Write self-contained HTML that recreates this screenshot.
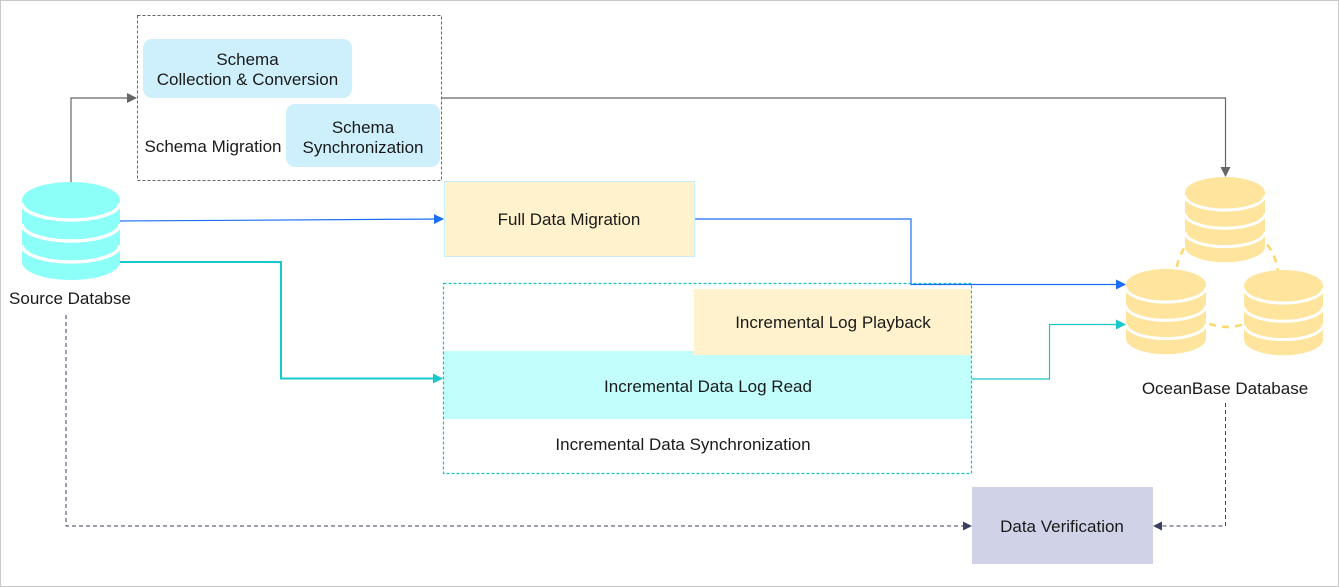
<!DOCTYPE html>
<html><head><meta charset="utf-8"><style>
html,body{margin:0;padding:0;background:#fff}
svg{display:block}
text{font-family:"Liberation Sans",Arial,sans-serif;font-size:17px;fill:#1a1a1a}
</style></head><body>
<svg width="1339" height="587" viewBox="0 0 1339 587" xmlns="http://www.w3.org/2000/svg">
<defs>
<marker id="ag" markerWidth="10" markerHeight="10" refX="9" refY="5" orient="auto" markerUnits="userSpaceOnUse"><path d="M0,0 L10,5 L0,10 z" fill="#666"/></marker>
<marker id="ab" markerWidth="10" markerHeight="10" refX="9" refY="5" orient="auto" markerUnits="userSpaceOnUse"><path d="M0,0 L10,5 L0,10 z" fill="#1a6ef5"/></marker>
<marker id="at" markerWidth="10" markerHeight="10" refX="9" refY="5" orient="auto" markerUnits="userSpaceOnUse"><path d="M0,0 L10,5 L0,10 z" fill="#19c8c8"/></marker>
<marker id="an" markerWidth="9" markerHeight="9" refX="8" refY="4.5" orient="auto" markerUnits="userSpaceOnUse"><path d="M0,0 L9,4.5 L0,9 z" fill="#3b3f63"/></marker>
<g id="cyl">
<path d="M0,18 A49,18 0 0 1 98,18 L98,80 A49,18 0 0 1 0,80 Z"/>
<path d="M0,21 A49,17 0 0 0 98,21 M0,42 A49,17 0 0 0 98,42 M0,63 A49,17 0 0 0 98,63" fill="none" stroke="#fff" stroke-width="3.5"/>
</g>
</defs>
<rect x="0.5" y="0.5" width="1338" height="586" fill="#fff" stroke="#c8c8c8"/>

<g fill="#8cfff8"><use href="#cyl" transform="translate(22,182)"/></g>
<text x="70" y="304" text-anchor="middle">Source Databse</text>

<rect x="137.5" y="15.5" width="304" height="165" fill="none" stroke="#666" stroke-dasharray="3,2"/>
<rect x="143" y="39" width="209" height="59" rx="9" fill="#cdf0fc"/>
<text x="247.5" y="65" text-anchor="middle">Schema</text>
<text x="247.5" y="85" text-anchor="middle">Collection &amp; Conversion</text>
<rect x="286" y="104" width="154" height="63" rx="9" fill="#cdf0fc"/>
<text x="363" y="133" text-anchor="middle">Schema</text>
<text x="363" y="153" text-anchor="middle">Synchronization</text>
<text x="213" y="152" text-anchor="middle">Schema Migration</text>

<rect x="444.5" y="181.5" width="250" height="75" fill="#fff2cc" stroke="#c8eef8"/>
<text x="569" y="225" text-anchor="middle">Full Data Migration</text>

<rect x="694" y="289" width="277" height="66" fill="#fff2cc"/>
<rect x="444" y="351" width="527" height="68" fill="#c2fffc"/>
<rect x="694" y="351" width="277" height="4" fill="#fff2cc"/>
<rect x="443.5" y="283.5" width="528" height="190" fill="none" stroke="#14c4c4" stroke-width="1.2" stroke-dasharray="3,2"/>
<text x="833" y="328" text-anchor="middle">Incremental Log Playback</text>
<text x="708" y="392" text-anchor="middle">Incremental Data Log Read</text>
<text x="683" y="450" text-anchor="middle">Incremental Data Synchronization</text>

<rect x="972" y="487" width="181" height="77" fill="#d0d3e7"/>
<text x="1062" y="532" text-anchor="middle">Data Verification</text>

<circle cx="1227" cy="276" r="51" fill="none" stroke="#fcd86a" stroke-width="2.5" stroke-dasharray="7,6"/>
<g fill="#fee49c">
<use href="#cyl" transform="translate(1185,177) scale(0.816,0.87)"/>
<use href="#cyl" transform="translate(1126,269) scale(0.816,0.87)"/>
<use href="#cyl" transform="translate(1244,270) scale(0.806,0.87)"/>
</g>
<text x="1225" y="394" text-anchor="middle">OceanBase Database</text>

<path d="M71,182 V98 H136" fill="none" stroke="#666" stroke-width="1.2" marker-end="url(#ag)"/>
<path d="M442,98 H1225.5 V176" fill="none" stroke="#666" stroke-width="1.2" marker-end="url(#ag)"/>
<path d="M120,221 L443,219" fill="none" stroke="#1a6ef5" stroke-width="1.2" marker-end="url(#ab)"/>
<path d="M695,219 H911 V284.5 H1125" fill="none" stroke="#1a6ef5" stroke-width="1.2" marker-end="url(#ab)"/>
<path d="M120,262 H281 V378.5 H442" fill="none" stroke="#19c8c8" stroke-width="2" marker-end="url(#at)"/>
<path d="M972,379 H1049.5 V324.5 H1125" fill="none" stroke="#19c8c8" stroke-width="1.2" marker-end="url(#at)"/>
<path d="M66,315 V526 H971" fill="none" stroke="#3b3f63" stroke-width="1" stroke-dasharray="4,3" marker-end="url(#an)"/>
<path d="M1225.5,403 V526 H1154" fill="none" stroke="#3b3f63" stroke-width="1" stroke-dasharray="4,3" marker-end="url(#an)"/>
</svg>
</body></html>
